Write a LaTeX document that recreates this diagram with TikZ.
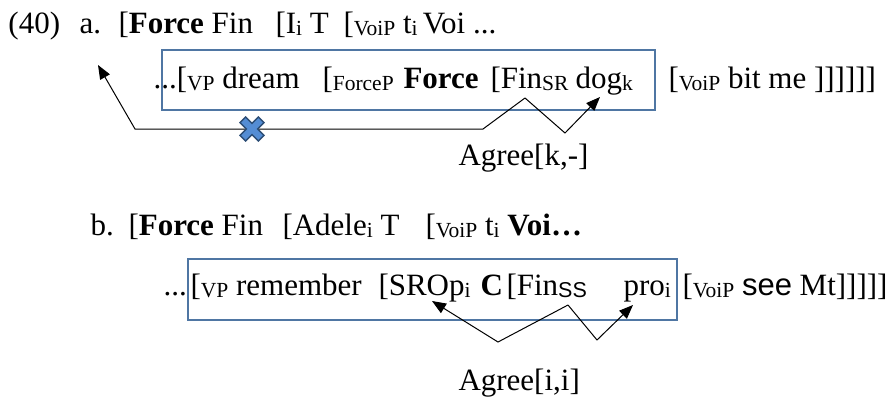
\documentclass[tikz,border=0pt]{standalone}
\usepackage{fontspec}
\setmainfont{Liberation Serif}
\newfontfamily\sansf{Liberation Sans}
\usetikzlibrary{arrows.meta}
\definecolor{boxblue}{RGB}{79,118,163}
\definecolor{crossfill}{RGB}{84,141,212}
\definecolor{crossline}{RGB}{44,77,117}
\newcommand{\sbs}[1]{\raisebox{-2.5pt}{\fontsize{21.5}{22}\selectfont #1}}
\begin{document}
\begin{tikzpicture}[x=1pt,y=-1pt,line width=1pt]
      \tikzstyle{every node}=[anchor=base west,inner sep=0pt,font=\fontsize{31}{34}\selectfont];
      \tikzstyle{frame}=[draw=boxblue,line width=1.6pt];
      \tikzstyle{agr}=[line width=1pt,-{Triangle[length=14pt,width=11pt]}];
      \useasboundingbox (0,0) rectangle (895,408);

      % (40a)
      \draw[frame] (162,50) rectangle (655,110);
      \node (num) at (8,33) {(40)};
      \node (la) at (79,33) {a.};
      \node (a1) at (118,33) {[\textbf{Force} Fin};
      \node (a2) at (275,33) {[I\sbs{i} T};
      \node (a3) at (343,33) {[\sbs{VoiP} t\sbs{i}\,Voi ...};
      \node (a4) at (153,88) {...[\sbs{VP} dream};
      \node (a5) at (322,88) {[\sbs{ForceP}};
      \node (a6) at (403,88) {\textbf{Force}};
      \node (a7) at (490,88) {[Fin\sbs{SR}};
      \node (a8) at (575,88) {dog\sbs{k}};
      \node (a9) at (668,88) {[\sbs{VoiP} bit me ]]]]]]};
      \node (agra) at (458,165) {Agree[k,-]};

      \coordinate (apexa) at (525,98);
      \coordinate (benda) at (483,129);
      \coordinate (corna) at (135,129);
      \coordinate (tipa) at (98,65);
      \coordinate (bendb) at (565,133);
      \coordinate (tipb) at (600,97);
      \draw[agr] (apexa) -- (benda) -- (corna) -- (tipa);
      \draw[agr] (apexa) -- (bendb) -- (tipb);

      \draw[fill=crossfill,draw=crossline,line width=1.3pt,shift={(252,129)},rotate=45]
      (-4,-13) -- (4,-13) -- (4,-4) -- (13,-4) -- (13,4) -- (4,4) -- (4,13)
      -- (-4,13) -- (-4,4) -- (-13,4) -- (-13,-4) -- (-4,-4) -- cycle;

      % (40b)
      \draw[frame] (188,259) rectangle (677,320);
      \node (lb) at (90,235) {b.};
      \node (b1) at (128,235) {[\textbf{Force} Fin};
      \node (b2) at (282,235) {[Adele\sbs{i} T};
      \node (b3) at (425,235) {[\sbs{VoiP} t\sbs{i} \textbf{Voi…}};
      \node (b4) at (163,295) {...};
      \node (b5) at (190,295) {[\sbs{VP} remember};
      \node (b6) at (378,295) {[SROp\sbs{i}};
      \node (b7) at (480,295) {\textbf{C}};
      \node (b8) at (506,295) {[Fin\sbs{\sansf SS}};
      \node (b9) at (623,295) {pro\sbs{i}};
      \node (b10) at (682,295) {[\sbs{VoiP} {\sansf see} Mt]]]]]};
      \node (agrb) at (458,390) {Agree[i,i]};

      \coordinate (apexb) at (568,305);
      \coordinate (bendc) at (498,342);
      \coordinate (tipc) at (432,301);
      \coordinate (bendd) at (597,340);
      \coordinate (tipd) at (633,305);
      \draw[agr] (apexb) -- (bendc) -- (tipc);
      \draw[agr] (apexb) -- (bendd) -- (tipd);

    \end{tikzpicture}
\end{document}
